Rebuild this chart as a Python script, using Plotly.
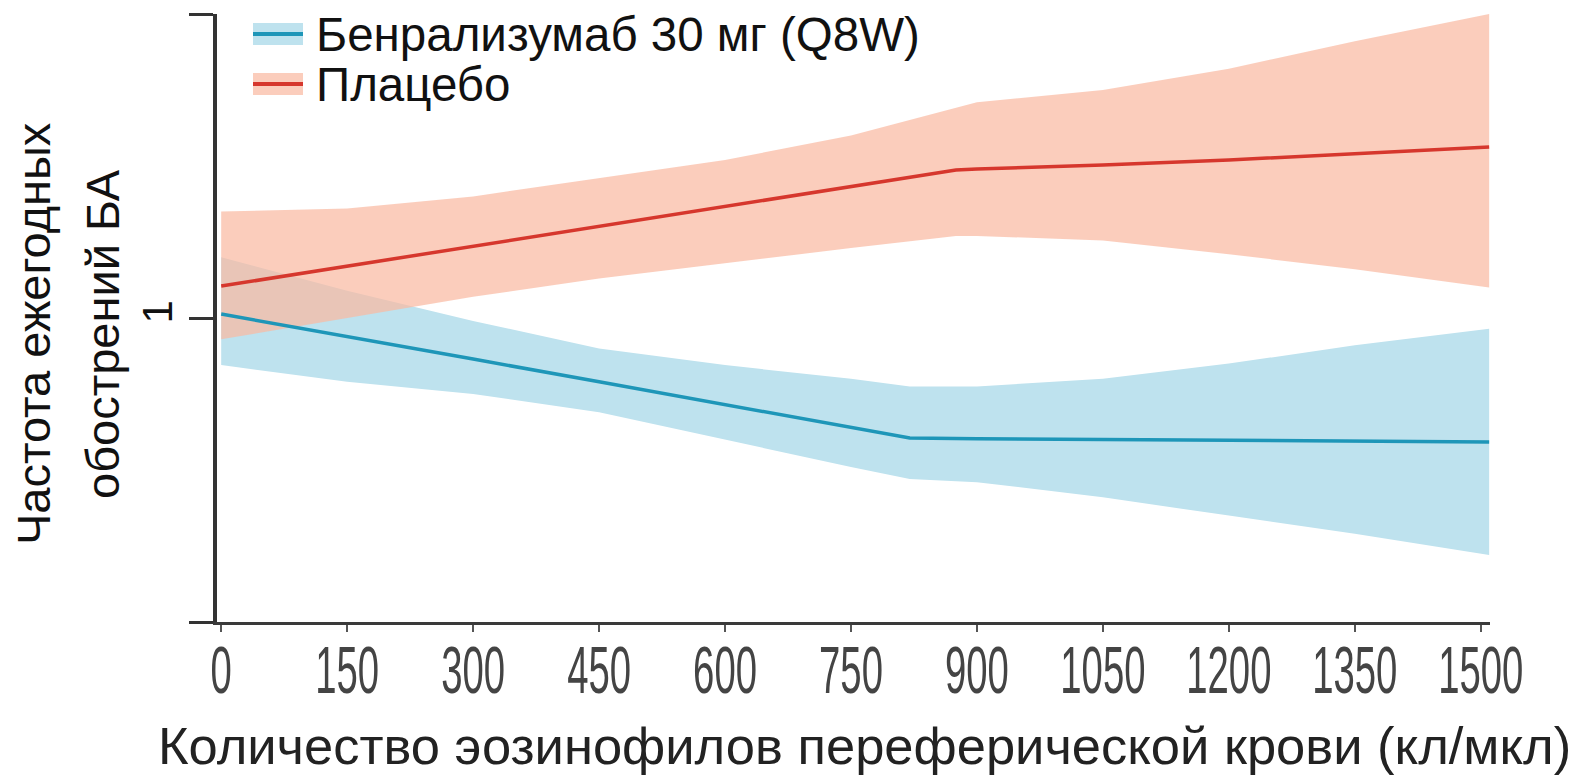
import plotly.graph_objects as go

# Annual exacerbation rate vs. blood eosinophil count
benra_x = [0, 150, 300, 450, 600, 750, 820, 900, 1050, 1200, 1350, 1510]
benra_rate = [1.013, 0.94, 0.865, 0.79, 0.715, 0.64, 0.605, 0.603, 0.600, 0.598, 0.595, 0.592]
benra_upper = [1.20, 1.09, 0.99, 0.90, 0.845, 0.80, 0.775, 0.775, 0.80, 0.85, 0.91, 0.965]
benra_lower = [0.845, 0.79, 0.75, 0.69, 0.60, 0.51, 0.47, 0.46, 0.41, 0.35, 0.29, 0.22]

placebo_x = [0, 150, 300, 450, 600, 750, 875, 900, 1050, 1200, 1350, 1510]
placebo_rate = [1.105, 1.17, 1.236, 1.30, 1.367, 1.43, 1.487, 1.49, 1.503, 1.52, 1.54, 1.5625]
placebo_upper = [1.35, 1.36, 1.40, 1.46, 1.52, 1.60, 1.69, 1.71, 1.75, 1.82, 1.91, 2.0]
placebo_lower = [0.93, 1.00, 1.07, 1.13, 1.18, 1.23, 1.27, 1.27, 1.255, 1.21, 1.16, 1.10]

x_ticks = [0, 150, 300, 450, 600, 750, 900, 1050, 1200, 1350, 1500]
y_ticks = [0, 1, 2]
y_tick_text = ["", "1", ""]

series_names = ["Бенрализумаб 30 мг (Q8W)", "Плацебо"]
x_title = "Количество эозинофилов переферической крови (кл/мкл)"
y_title_lines = ["Частота ежегодных", "обострений БА"]

BLUE_LINE = "#1e96b8"
BLUE_BAND = "rgba(190,226,238,1)"
RED_LINE = "#d6372d"
RED_BAND = "rgba(249,186,162,0.72)"

FONT = "Liberation Sans, Arial, sans-serif"

fig = go.Figure()

# confidence bands
fig.add_trace(go.Scatter(
    x=benra_x + benra_x[::-1], y=benra_upper + benra_lower[::-1],
    fill="toself", fillcolor=BLUE_BAND, line=dict(width=0),
    mode="lines", hoverinfo="skip", showlegend=False))
fig.add_trace(go.Scatter(
    x=placebo_x + placebo_x[::-1], y=placebo_upper + placebo_lower[::-1],
    fill="toself", fillcolor=RED_BAND, line=dict(width=0),
    mode="lines", hoverinfo="skip", showlegend=False))

# rate lines
fig.add_trace(go.Scatter(x=benra_x, y=benra_rate, mode="lines",
                         line=dict(color=BLUE_LINE, width=3.5),
                         name=series_names[0], showlegend=False))
fig.add_trace(go.Scatter(x=placebo_x, y=placebo_rate, mode="lines",
                         line=dict(color=RED_LINE, width=3.5),
                         name=series_names[1], showlegend=False))

# plot area in pixels
L, R, T, B = 217, 96, 14, 153
W, H = 1586, 775
pw, ph = W - L - R, H - T - B


def px_x(px):
    return (px - L) / pw


def px_y(py):
    return (H - B - py) / ph


shapes = []
annotations = []

# legend swatches: band with its line through the middle
legend_rows = [(series_names[0], BLUE_BAND, BLUE_LINE, 34),
               (series_names[1], "rgba(251,205,188,1)", RED_LINE, 84)]
for name, band, line, cy in legend_rows:
    shapes.append(dict(type="rect", xref="paper", yref="paper",
                       x0=px_x(253), x1=px_x(303), y0=px_y(cy + 11), y1=px_y(cy - 11),
                       fillcolor=band, line=dict(width=0), layer="above"))
    shapes.append(dict(type="line", xref="paper", yref="paper",
                       x0=px_x(253), x1=px_x(303), y0=px_y(cy), y1=px_y(cy),
                       line=dict(color=line, width=4), layer="above"))
    annotations.append(dict(text=name, xref="paper", yref="paper",
                            x=px_x(314), y=px_y(cy), xanchor="left", yanchor="middle",
                            showarrow=False, font=dict(family=FONT, size=47.5, color="#111")))

# axis titles
annotations.append(dict(text=x_title, xref="paper", yref="paper",
                        x=px_x(864), y=px_y(745), xanchor="center", yanchor="middle",
                        showarrow=False, font=dict(family=FONT, size=52.5, color="#222")))
for text, cx in zip(y_title_lines, [33, 102]):
    annotations.append(dict(text=text, xref="paper", yref="paper",
                            x=px_x(cx), y=px_y(334), xanchor="center", yanchor="middle",
                            textangle=-90, showarrow=False,
                            font=dict(family=FONT, size=47, color="#111")))

fig.update_layout(
    width=W, height=H,
    margin=dict(l=L, r=R, t=T, b=B, pad=0, autoexpand=False),
    paper_bgcolor="white", plot_bgcolor="white",
    showlegend=False,
    shapes=shapes, annotations=annotations,
    xaxis=dict(range=[-5, 1511], tickvals=x_ticks, ticks="outside", ticklen=7,
               tickwidth=2, tickcolor="#555", showline=True, linecolor="#3a3a3a",
               linewidth=3, showgrid=False, zeroline=False, tickangle=0,
               automargin=False, ticklabelstandoff=-18,
               tickfont=dict(family=FONT, size=66, color="#444")),
    yaxis=dict(range=[0, 2], tickvals=y_ticks, ticktext=y_tick_text, ticks="outside",
               ticklen=24, tickwidth=3, tickcolor="#333", showline=True,
               linecolor="#333", linewidth=3.5, showgrid=False, zeroline=False,
               automargin=False,
               tickangle=-90, tickfont=dict(family=FONT, size=42, color="#111")),
)

# the x tick numerals are set in a tall, condensed style
condense_ticks = """
document.querySelectorAll('.xtick text').forEach(function (t) {
  var w = t.getComputedTextLength();
  t.setAttribute('textLength', (w * 0.58).toFixed(1));
  t.setAttribute('lengthAdjust', 'spacingAndGlyphs');
});
"""

fig.write_html("out.html", post_script=condense_ticks)
